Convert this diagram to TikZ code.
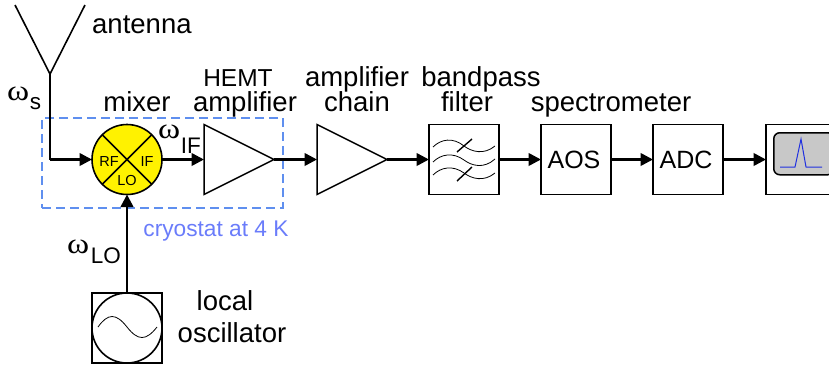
\documentclass[tikz,border=0pt]{standalone}
\usepackage{fontspec}
\setmainfont{Liberation Sans}
\newfontfamily\symfont{Liberation Serif}
\usetikzlibrary{arrows.meta,shapes.geometric}
\definecolor{dashblue}{HTML}{5F8FEF}
\definecolor{cryo}{HTML}{6A7CFA}
\definecolor{screen}{HTML}{C8C8C8}
\definecolor{trace}{HTML}{2030E0}
\newcommand{\omegaglyph}{\scalebox{1.22}[1.05]{\symfont\char"03C9}}
\newcommand{\subfont}{\fontsize{22.5}{22.5}\selectfont}
\tikzset{
  x=1pt,y=-1pt,
  block/.style={draw=black,line width=1.5pt,outer sep=0pt,minimum size=70pt,inner sep=0pt,font=\fontsize{25}{25}\selectfont},
  amp/.style={draw=black,line width=1.5pt,outer sep=0pt,isosceles triangle,isosceles triangle stretches,minimum width=70pt,minimum height=70pt,inner sep=0pt},
  wire/.style={draw=black,line width=2.6pt},
  sig/.style={wire,-{Triangle[length=12.5pt,width=12.5pt]}},
  lbl/.style={inner sep=0pt,font=\fontsize{27.5}{27.5}\selectfont},
  port/.style={inner sep=0pt,font=\fontsize{14.5}{15}\selectfont},
  thin wave/.style={draw=black,line width=0.8pt},
}
\begin{document}
\begin{tikzpicture}
\useasboundingbox (0,0) rectangle (829,368);
% cryostat
\node[draw=dashblue,line width=1.6pt,dash pattern=on 9pt off 5pt,minimum width=241pt,minimum height=90pt,inner sep=0pt] (cryostat) at (162.5,163) {};
% antenna
\coordinate (antL) at (15,5);
\coordinate (antR) at (85,5);
\coordinate (antJ) at (50,74);
\coordinate (bend) at (50,159.5);
\draw[black,line width=1.6pt] (antL) -- (antJ) -- (antR);
% mixer
\node[circle,draw=black,fill=yellow,line width=1.6pt,outer sep=0pt,minimum size=70pt,inner sep=0pt] (mixer) at (127,159.5) {};
\draw[black,line width=1.5pt] (mixer.45) -- (mixer.225) (mixer.135) -- (mixer.315);
\node[port] (rf) at (109,162) {RF};
\node[port] (if) at (147,162) {IF};
\node[port] (lo) at (127,181) {LO};
% amplifiers
\node[amp,anchor=apex] (hemt) at (274,159.5) {};
\node[amp,anchor=apex] (chain) at (387,159.5) {};
% blocks
\node[block] (filter) at (464,159.5) {};
\node[block] (aos) at (576,159.5) {AOS\kern4pt};
\node[block] (adc) at (688,159.5) {ADC\kern4pt};
\node[block,minimum width=72pt,anchor=west] (disp) at (766,159.5) {};
\node[draw=black,fill=screen,line width=1.5pt,rounded corners=6pt,minimum width=60pt,minimum height=42pt,inner sep=0pt,anchor=north west] (screen) at (773,132) {};
\draw[trace,line width=1pt] (780,167) -- (795,167) -- (801,139) -- (806,167) -- (822,167);
% filter symbol
\draw[thin wave] (433,147) .. controls (441,139) and (453,137) .. (464,146) .. controls (472,152) and (484,155) .. (495,146);
\draw[thin wave] (433,162) .. controls (441,154) and (453,152) .. (464,160) .. controls (472,166) and (484,169) .. (495,159);
\draw[thin wave] (433,175) .. controls (441,167) and (453,165) .. (464,173) .. controls (472,179) and (484,182) .. (495,173);
\draw[black,line width=1.4pt] (457,152) -- (472,139) (457,181) -- (472,167);
% oscillator
\node[draw=black,line width=1.5pt,outer sep=0pt,minimum size=70pt,inner sep=0pt] (osc) at (127,328) {};
\node[circle,draw=black,line width=1.6pt,outer sep=0pt,minimum size=70pt,inner sep=0pt] (osccircle) at (127,328) {};
\draw[thin wave] (98,327) .. controls (108,313) and (116,313) .. (127,327) .. controls (138,341) and (146,341) .. (157,327);
% connectors
\draw[wire] (antJ) -- (bend);
\draw[sig] (bend) -- (mixer.west);
\draw[sig] (mixer.east) -- (hemt.lower side);
\draw[sig] (hemt.apex) -- (chain.lower side);
\draw[sig] (chain.apex) -- (filter.west);
\draw[sig] (filter.east) -- (aos.west);
\draw[sig] (aos.east) -- (adc.west);
\draw[sig] (adc.east) -- (disp.west);
\draw[sig] (osccircle.north) -- (mixer.south);
% labels
\node[lbl,anchor=base west] (antlabel) at (92,33) {antenna};
\node[lbl,anchor=base] (mixlabel) at (137,111) {mixer};
\node[lbl,anchor=base,font=\fontsize{24.5}{25}\selectfont] (hemtlabel) at (238,86) {HEMT};
\node[lbl,anchor=base] (amplabel) at (245,111) {amplifier};
\node[lbl,anchor=base] (chainlabelA) at (357,86) {amplifier};
\node[lbl,anchor=base] (chainlabelB) at (357,111) {chain};
\node[lbl,anchor=base] (filterlabelA) at (481,86) {bandpass};
\node[lbl,anchor=base] (filterlabelB) at (467,111) {filter};
\node[lbl,anchor=base] (speclabel) at (611,111) {spectrometer};
\node[lbl,anchor=base] (osclabelA) at (225,310) {local};
\node[lbl,anchor=base] (osclabelB) at (232,342) {oscillator};
\node[inner sep=0pt,anchor=base,font=\fontsize{22.7}{23}\selectfont,text=cryo] (cryolabel) at (216,236) {cryostat at 4 K};
% signal names
\node[lbl,anchor=base west] (ws) at (7,100) {\omegaglyph\kern0.5pt\raisebox{-9pt}{\subfont s}};
\node[lbl,anchor=base west] (wif) at (158,138) {\omegaglyph\kern0.5pt\raisebox{-15pt}{\subfont IF}};
\node[lbl,anchor=base west] (wlo) at (67,253) {\omegaglyph\kern1.5pt\raisebox{-10pt}{\subfont LO}};
\end{tikzpicture}
\end{document}
